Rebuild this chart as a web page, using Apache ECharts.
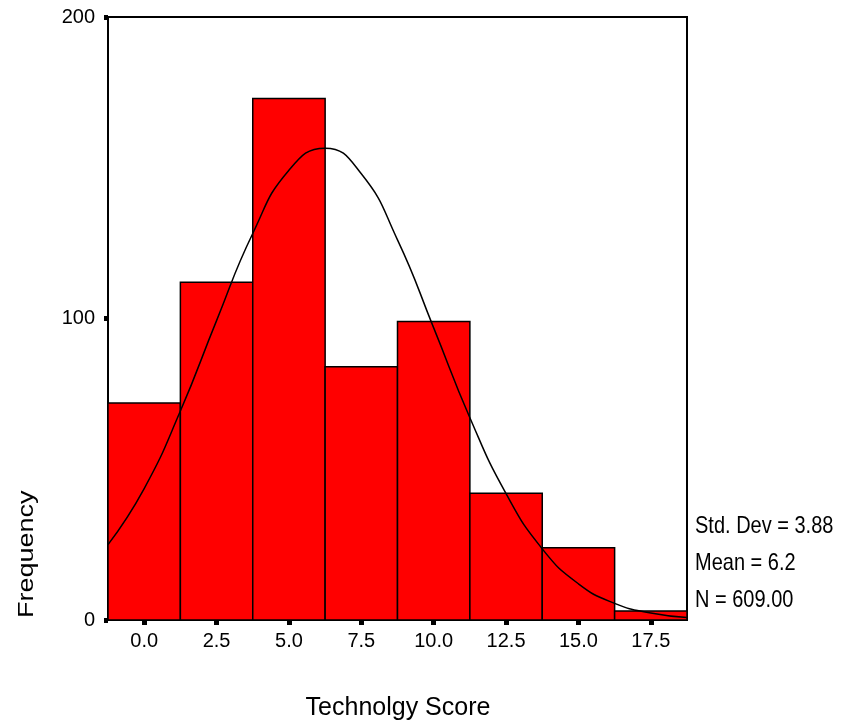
<!DOCTYPE html>
<html><head><meta charset="utf-8">
<script src="https://cdn.jsdelivr.net/npm/echarts@6/dist/echarts.min.js"></script>
<style>html,body{margin:0;padding:0;background:#fff}#c{width:846px;height:727px}</style>
</head><body><div id="c"></div>
<script>
// Histogram bins (centres) and frequencies
const binCenters = [0.0, 2.5, 5.0, 7.5, 10.0, 12.5, 15.0, 17.5];
const frequencies = [72, 112, 173, 84, 99, 42, 24, 3];
const binWidth = 2.5;
// Normal curve points
const curveX = [-1.25, 0, 1.25, 2.5, 3.75, 5, 6.25, 7.5, 8.75, 10, 11.25, 12.5, 13.75, 15, 16.25, 17.5, 18.75];
const curveY = [25, 43.6, 69.3, 99.3, 128.2, 149.2, 156.5, 148.0, 126.1, 96.9, 67.1, 41.9, 23.6, 12.0, 5.5, 2.3, 0.8];
const xTickValues = [0, 2.5, 5, 7.5, 10, 12.5, 15, 17.5];
const statsLines = ['Std. Dev = 3.88', 'Mean = 6.2', 'N = 609.00'];

const FONT = '"Liberation Sans", Arial, sans-serif';
const chart = echarts.init(document.getElementById('c'), null, {renderer: 'canvas'});
const barData = binCenters.map((c, i) => [c - binWidth / 2, c + binWidth / 2, frequencies[i]]);
const lineData = curveX.map((x, i) => [x, curveY[i]]);

chart.setOption({
  animation: false,
  backgroundColor: '#fff',
  grid: {left: 108, top: 17, right: 159, bottom: 107, show: true, borderColor: '#000', borderWidth: 2, backgroundColor: 'transparent'},
  xAxis: {
    type: 'value', min: -1.25, max: 18.75,
    splitLine: {show: false},
    axisLine: {show: true, onZero: false, lineStyle: {color: '#000', width: 2}},
    axisTick: {show: true, customValues: xTickValues, length: 5, lineStyle: {color: '#000', width: 5}},
    axisLabel: {show: true, customValues: xTickValues, margin: 11, color: '#000', fontFamily: FONT, fontSize: 20,
      formatter: v => v.toFixed(1)}
  },
  yAxis: {
    type: 'value', min: 0, max: 200, interval: 100,
    splitLine: {show: false},
    axisLine: {show: true, onZero: false, lineStyle: {color: '#000', width: 2}},
    axisTick: {show: true, length: 4, lineStyle: {color: '#000', width: 5}},
    axisLabel: {show: true, margin: 13, color: '#000', fontFamily: FONT, fontSize: 20}
  },
  series: [
    {
      type: 'custom',
      data: barData,
      encode: {x: [0, 1], y: 2},
      renderItem: function (params, api) {
        const p0 = api.coord([api.value(0), 0]);
        const p1 = api.coord([api.value(1), api.value(2)]);
        return {
          type: 'rect',
          shape: {x: p0[0], y: p1[1], width: p1[0] - p0[0], height: p0[1] - p1[1]},
          style: {fill: '#ff0000', stroke: '#000', lineWidth: 1.5}
        };
      },
      z: 2
    },
    {
      type: 'line', data: lineData, smooth: true, showSymbol: false, symbol: 'none',
      lineStyle: {color: '#000', width: 1.5}, z: 3, clip: true
    }
  ],
  graphic: [
    {type: 'text', x: 16, y: 618, rotation: Math.PI / 2, scaleY: 0.8,
      style: {text: 'Frequency', font: '27px ' + FONT, fill: '#000', verticalAlign: 'top'}},
    {type: 'text', x: 398, y: 708, style: {text: 'Technolgy Score', font: '25px ' + FONT, fill: '#000', align: 'center', verticalAlign: 'middle'}},
    {type: 'text', x: 695, y: 527, scaleY: 1.17, style: {text: statsLines[0], font: '20px ' + FONT, fill: '#000', verticalAlign: 'middle'}},
    {type: 'text', x: 695, y: 564, scaleY: 1.17, style: {text: statsLines[1], font: '20px ' + FONT, fill: '#000', verticalAlign: 'middle'}},
    {type: 'text', x: 695, y: 601, scaleY: 1.17, style: {text: statsLines[2], font: '20px ' + FONT, fill: '#000', verticalAlign: 'middle'}}
  ]
});
</script>
</body></html>
